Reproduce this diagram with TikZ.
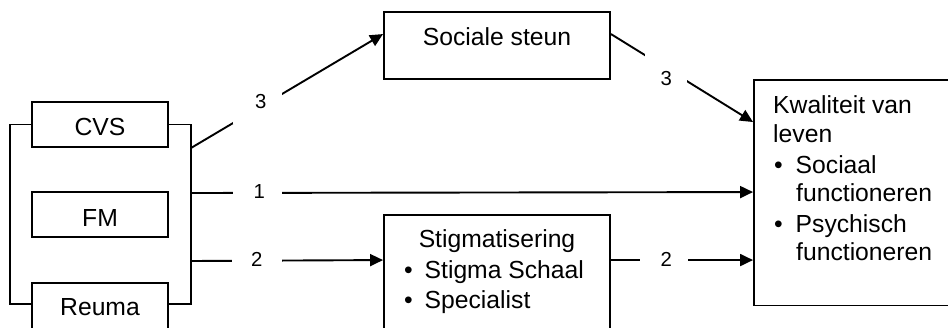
\documentclass[tikz,border=0pt]{standalone}
\usepackage{fontspec}
\setmainfont{Liberation Sans}
\usetikzlibrary{arrows.meta}
\tikzset{
  ln/.style={line width=1.9pt},
  arr/.style={line width=1.9pt, -{Triangle[length=13pt,width=12pt]}},
  box/.style={draw, line width=1.9pt, inner sep=0pt, rectangle},
  txt/.style={inner sep=0pt, font=\fontsize{24.7}{29}\selectfont},
  gap/.style={fill=white, inner sep=0pt, font=\fontsize{20.3}{24}\selectfont, minimum height=22pt},
}
\newcommand{\bulitem}[2]{\makebox[#1][l]{\textbullet}#2}
\begin{document}
\begin{tikzpicture}[x=1pt,y=-1pt]
\useasboundingbox (0,0) rectangle (948,327);
\clip (0,0) rectangle (948,327);
% boxes
\node[box, minimum width=226pt, minimum height=67pt] (ss) at (497,45.5) {};
\node[box, minimum width=136pt, minimum height=45pt] (cvs) at (100,124.5) {};
\node[box, minimum width=136pt, minimum height=45pt] (fm) at (100,214.5) {};
\node[box, minimum width=136pt, minimum height=50pt] (reuma) at (100,308) {};
\node[box, minimum width=226pt, minimum height=140pt] (stig) at (497,285) {};
\node[box, minimum width=216pt, minimum height=225.5pt] (kwal) at (862,192.75) {};
% texts
\node[txt, anchor=base] (tss) at (497,45) {Sociale steun};
\node[txt, anchor=base] (tcvs) at (100,135) {CVS};
\node[txt, anchor=base] (tfm) at (100,226) {FM};
\node[txt, anchor=base] (treuma) at (100,315) {Reuma};
\node[txt, anchor=base] (tst1) at (497,247) {Stigmatisering};
\node[txt, anchor=base west] (tst2) at (404,278) {\bulitem{20.5pt}{Stigma Schaal}};
\node[txt, anchor=base west] (tst3) at (404,308) {\bulitem{20.5pt}{Specialist}};
\node[txt, anchor=base west] (tk1) at (773,113) {Kwaliteit van};
\node[txt, anchor=base west] (tk2) at (773,142) {leven};
\node[txt, anchor=base west] (tk3) at (774,173) {\bulitem{21.5pt}{Sociaal}};
\node[txt, anchor=base west] (tk4) at (796,201) {functioneren};
\node[txt, anchor=base west] (tk5) at (774,232) {\bulitem{21.5pt}{Psychisch}};
\node[txt, anchor=base west] (tk6) at (796,260) {functioneren};
% bracket
\coordinate (bl) at (10,304);
\coordinate (br) at (191,304);
\draw[ln] (cvs.west) -| (bl) -- (reuma.west|-bl);
\draw[ln] (cvs.east) -| (br) -- (reuma.east|-br);
% joints
\coordinate (j1) at (191,193);
\coordinate (j2) at (191,261);
\coordinate (j3) at (191,148);
% connectors
\draw[arr] (j3) -- node[gap, pos=0.3446, minimum width=49pt, minimum height=44pt, yshift=6.9pt] (l3a) {\hspace{7pt}3} ([yshift=-23pt]ss.north west);
\draw[arr] ([yshift=-23pt]ss.north east) -- node[gap, pos=0.389, minimum width=42pt, minimum height=50pt, yshift=-10pt] (l3b) {3} ([yshift=-43pt]kwal.north west);
\draw[arr] (j1) -- node[gap, pos=0.1181, minimum width=49pt, yshift=1pt] (l1) {\hspace{4pt}1} ([yshift=-113pt]kwal.north west);
\draw[arr] (j2) -- node[gap, pos=0.342, minimum width=50pt, yshift=1pt] (l2a) {2} ([yshift=-46pt]stig.north west);
\draw[arr] ([yshift=-46pt]stig.north east) -- node[gap, pos=0.375, minimum width=48pt, yshift=1pt] (l2b) {\hspace{4pt}2} ([yshift=-181pt]kwal.north west);
\end{tikzpicture}
\end{document}
